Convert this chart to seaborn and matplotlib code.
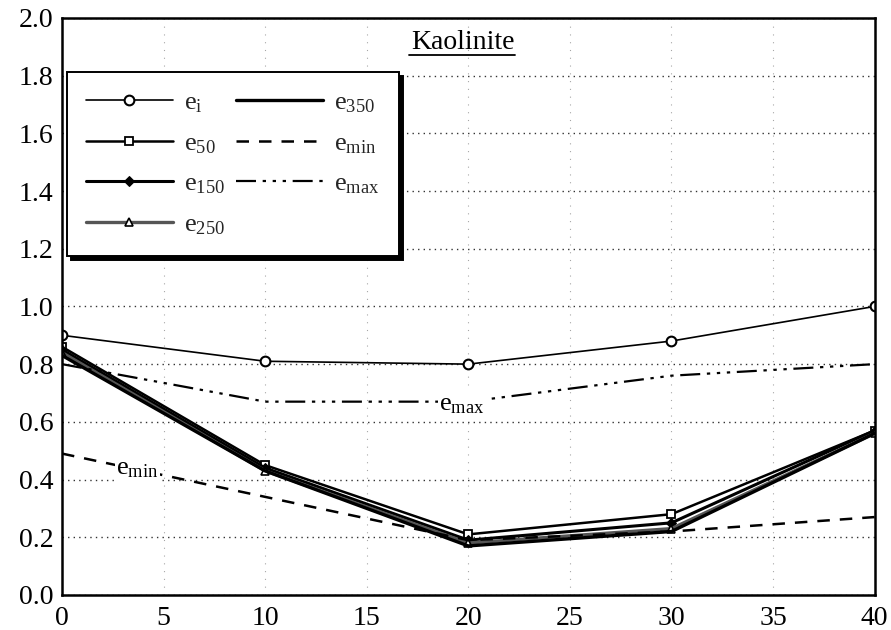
import matplotlib
matplotlib.use("Agg")
import matplotlib.pyplot as plt
import seaborn as sns
import pandas as pd

# Void ratio of kaolinite versus content (%)
x_vals = [0, 10, 20, 30, 40]
e_i = [0.90, 0.81, 0.80, 0.88, 1.00]
e_50 = [0.86, 0.45, 0.21, 0.28, 0.57]
e_150 = [0.85, 0.44, 0.19, 0.25, 0.57]
e_250 = [0.84, 0.43, 0.18, 0.23, 0.56]
e_350 = [0.83, 0.43, 0.17, 0.22, 0.56]
e_min = [0.49, 0.34, 0.19, 0.22, 0.27]
e_max = [0.80, 0.67, 0.67, 0.76, 0.80]

x_ticks = [0, 5, 10, 15, 20, 25, 30, 35, 40]
y_ticks = [0.0, 0.2, 0.4, 0.6, 0.8, 1.0, 1.2, 1.4, 1.6, 1.8, 2.0]

sns.set_theme(style="white")
plt.rcParams["font.family"] = ["Liberation Serif", "DejaVu Serif"]
plt.rcParams["mathtext.fontset"] = "custom"
plt.rcParams["mathtext.rm"] = "Liberation Serif"
plt.rcParams["mathtext.it"] = "Liberation Serif"

fig = plt.figure(figsize=(8.91, 6.3), dpi=100)
ax = fig.add_axes([0.0696, 0.0556, 0.912, 0.916])

series = [
    (r"$\mathrm{e}_{\mathrm{i}}$", e_i, dict(color="black", lw=1.2, marker="o", ms=7,
                                              mfc="white", mec="black", mew=1.5)),
    (r"$\mathrm{e}_{50}$", e_50, dict(color="black", lw=1.8, marker="s", ms=6,
                                      mfc="white", mec="black", mew=1.3)),
    (r"$\mathrm{e}_{150}$", e_150, dict(color="black", lw=2.2, marker="D", ms=5,
                                        mfc="black", mec="black")),
    (r"$\mathrm{e}_{250}$", e_250, dict(color="#555555", lw=2.4, marker="^", ms=6,
                                        mfc="white", mec="black", mew=1.2)),
    (r"$\mathrm{e}_{350}$", e_350, dict(color="black", lw=2.4)),
    (r"$\mathrm{e}_{\mathrm{min}}$", e_min, dict(color="black", lw=1.8, ls=(0, (5, 4)))),
    (r"$\mathrm{e}_{\mathrm{max}}$", e_max, dict(color="black", lw=1.6,
                                                 ls=(0, (9, 3, 1.5, 3, 1.5, 3, 1.5, 3)))),
]

for label, vals, style in series:
    df = pd.DataFrame({"x": x_vals, "y": vals})
    sns.lineplot(data=df, x="x", y="y", ax=ax, label=label, **style)

ax.set_xlim(0, 40)
ax.set_ylim(0.0, 2.0)
ax.set_xticks(x_ticks)
ax.set_xticklabels([str(t) for t in x_ticks])
ax.set_yticks(y_ticks)
ax.set_yticklabels([f"{t:.1f}" for t in y_ticks])
ax.set_xlabel("")
ax.set_ylabel("")
ax.tick_params(axis="both", direction="in", length=4, width=1.2, colors="black",
               labelsize=20)
ax.tick_params(axis="y", pad=6)
ax.tick_params(axis="x", pad=8)

# dotted reference grid
ax.grid(axis="y", ls=(0, (1, 3)), color="black", lw=1.0, alpha=0.8)
ax.grid(axis="x", ls=(0, (1, 6)), color="black", lw=0.8, alpha=0.35)

for sp in ax.spines.values():
    sp.set_color("black")
    sp.set_linewidth(1.8)

# curve annotations
ax.text(19.7, 0.66, r"$\mathrm{e}_{\mathrm{max}}$", fontsize=19, color="black",
        ha="center", va="center", bbox=dict(fc="white", ec="none", pad=1))
ax.text(3.7, 0.435, r"$\mathrm{e}_{\mathrm{min}}$", fontsize=19, color="black",
        ha="center", va="center", bbox=dict(fc="white", ec="none", pad=1))

# underlined title inside the plot
ax.text(0.493, 0.958, "Kaolinite", transform=ax.transAxes, fontsize=20,
        ha="center", va="center", color="black")
ax.plot([0.427, 0.557], [0.936, 0.936], transform=ax.transAxes, color="black", lw=1.3)

leg = ax.legend(loc="upper left", bbox_to_anchor=(0.006, 0.906), borderaxespad=0,
                ncol=2, frameon=True, fancybox=False,
                shadow={"color": "black", "alpha": 1.0, "ox": 3, "oy": -3},
                fontsize=19, handlelength=3.3, columnspacing=0.45,
                labelspacing=0.62, borderpad=0.72, handletextpad=0.4)
leg.get_frame().set_edgecolor("black")
leg.get_frame().set_linewidth(1.4)

fig.savefig("out.png", dpi=100)
